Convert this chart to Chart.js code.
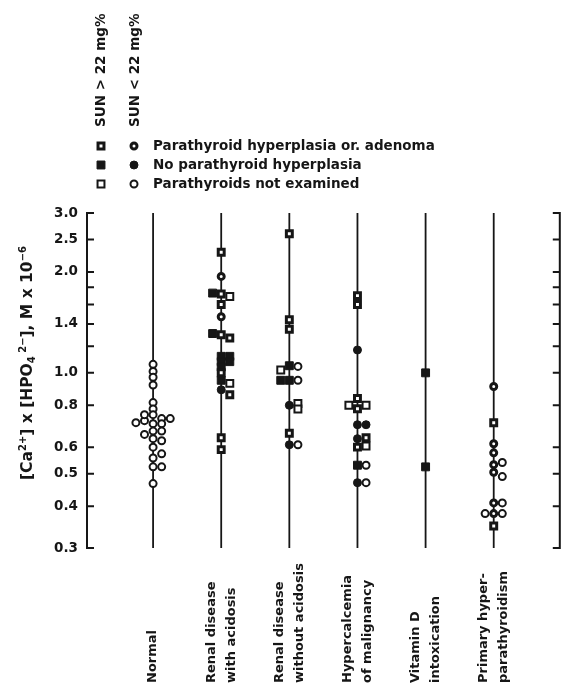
<!DOCTYPE html>
<html>
<head>
<meta charset="utf-8">
<script src="https://cdn.jsdelivr.net/npm/chart.js@4.4.1/dist/chart.umd.min.js"></script>
<style>
  html, body { margin: 0; padding: 0; background: #fff; }
</style>
</head>
<body>
<canvas id="chart" width="567" height="690"></canvas>
<script>
// categories along the x axis
const categories = [
  'Normal',
  'Renal disease\nwith acidosis',
  'Renal disease\nwithout acidosis',
  'Hypercalcemia\nof malignancy',
  'Vitamin D\nintoxication',
  'Primary hyper-\nparathyroidism'
];

// y axis ticks (log scale)
const tickValues = [3.0, 2.5, 2.0, 1.8, 1.6, 1.4, 1.2, 1.0, 0.8, 0.6, 0.5, 0.4, 0.3];
const tickLabels = ['3.0', '2.5', '2.0', '', '', '1.4', '', '1.0', '0.8', '0.6', '0.5', '0.4', '0.3'];

// series: squares = SUN > 22 mg%, circles = SUN < 22 mg%
const S_HYP = 0, S_NO = 1, S_NX = 2, C_HYP = 3, C_NO = 4, C_NX = 5;
const legendRows = ['Parathyroid hyperplasia or. adenoma', 'No parathyroid hyperplasia', 'Parathyroids not examined'];

// points per category: [value, series]
const normal = [
  [1.06, C_NX], [1.01, C_NX], [0.97, C_NX], [0.92, C_NX], [0.815, C_NX], [0.78, C_NX],
  [0.75, C_NX], [0.705, C_NX], [0.67, C_NX], [0.636, C_NX], [0.60, C_NX], [0.557, C_NX],
  [0.524, C_NX], [0.467, C_NX],
  [0.73, C_NX], [0.72, C_NX], [0.75, C_NX], [0.73, C_NX], [0.71, C_NX], [0.705, C_NX],
  [0.67, C_NX], [0.655, C_NX], [0.627, C_NX], [0.573, C_NX], [0.524, C_NX]
];
const renalAcidosis = [
  [2.29, S_HYP], [1.94, C_HYP], [1.72, S_HYP], [1.69, S_NX], [1.73, S_NO], [1.60, S_HYP],
  [1.47, C_HYP], [1.30, S_HYP], [1.27, S_HYP], [1.31, S_NO],
  [1.12, S_NO], [1.08, S_NO], [1.04, S_NO], [1.12, S_NO], [1.08, S_NO], [1.0, S_HYP],
  [0.95, S_NO], [0.93, S_NX], [0.89, C_NO], [0.86, S_HYP], [0.64, S_HYP], [0.59, S_HYP]
];
const renalNoAcidosis = [
  [2.60, S_HYP], [1.44, S_HYP], [1.35, S_HYP],
  [1.05, S_NO], [1.045, C_NX], [1.02, S_NX],
  [0.95, S_NO], [0.95, C_NX], [0.95, S_NO],
  [0.80, C_NO], [0.81, S_NX], [0.78, S_NX],
  [0.66, S_HYP], [0.61, C_NO], [0.61, C_NX]
];
const hypercalcemia = [
  [1.70, S_HYP], [1.60, S_HYP], [1.17, C_NO],
  [0.838, S_HYP], [0.781, S_HYP], [0.80, S_NX], [0.80, S_NX],
  [0.70, C_NO], [0.70, C_NO], [0.636, C_NO], [0.64, S_HYP],
  [0.60, S_HYP], [0.605, S_NX], [0.53, S_NO], [0.53, C_NX], [0.47, C_NO], [0.47, C_NX]
];
const vitaminD = [[1.0, S_NO], [0.524, S_NO]];
const primaryHpt = [
  [0.91, C_HYP], [0.71, S_HYP], [0.614, C_HYP], [0.577, C_HYP],
  [0.532, C_HYP], [0.54, C_NX], [0.505, C_HYP], [0.49, C_NX],
  [0.409, C_HYP], [0.38, C_HYP], [0.409, C_NX], [0.38, C_NX], [0.38, C_NX], [0.349, S_HYP]
];
const groups = [normal, renalAcidosis, renalNoAcidosis, hypercalcemia, vitaminD, primaryHpt];

const ink = '#161616';
const FONT = '"DejaVu Sans", sans-serif';

// marker looks per series
const markStyles = [
  { pointStyle: 'rect', radius: 4.2, borderWidth: 3, fill: '#fff' },
  { pointStyle: 'rect', radius: 5.6, borderWidth: 1, fill: ink },
  { pointStyle: 'rect', radius: 4.9, borderWidth: 2, fill: '#fff' },
  { pointStyle: 'circle', radius: 3, borderWidth: 3, fill: '#fff' },
  { pointStyle: 'circle', radius: 4, borderWidth: 1, fill: ink },
  { pointStyle: 'circle', radius: 3.5, borderWidth: 2, fill: '#fff' }
];

// spread points sideways when they sit on top of each other
const SLOT_ORDER = [0, 1, -1, 2, -2, 3, -3, 4, -4];
const SLOT_W = 0.126;
const MIN_GAP = 0.015;

function swarm(points) {
  const placed = [];
  return points.map(([v, s]) => {
    const lv = Math.log10(v);
    let slot = 0;
    for (const c of SLOT_ORDER) {
      if (!placed.some(p => p.slot === c && Math.abs(p.lv - lv) < MIN_GAP)) { slot = c; break; }
    }
    placed.push({ slot, lv });
    return { v, s, slot };
  });
}

const placedGroups = groups.map(swarm);

const datasets = [];
categories.forEach((c, i) => {
  datasets.push({
    data: [{ x: i, y: 0.3 }, { x: i, y: 3.0 }],
    showLine: true,
    borderColor: ink,
    borderWidth: 1.8,
    pointRadius: 0,
    order: 10
  });
});
markStyles.forEach((m, k) => {
  const data = [];
  placedGroups.forEach((pts, ci) => {
    pts.filter(p => p.s === k).forEach(p => data.push({ x: ci + p.slot * SLOT_W, y: p.v }));
  });
  datasets.push({
    data: data,
    pointStyle: m.pointStyle,
    pointRadius: m.radius,
    pointBorderWidth: m.borderWidth,
    pointBackgroundColor: m.fill,
    pointBorderColor: ink,
    order: 0
  });
});

function drawMark(ctx, m, x, y) {
  ctx.save();
  ctx.fillStyle = m.fill;
  ctx.strokeStyle = ink;
  ctx.lineWidth = m.borderWidth;
  Chart.helpers.drawPoint(ctx, { pointStyle: m.pointStyle, radius: m.radius, borderWidth: m.borderWidth, rotation: 0 }, x, y);
  ctx.restore();
}

const decorPlugin = {
  id: 'decor',
  beforeDatasetsDraw(chart) {
    const { ctx, chartArea: a, scales: { y } } = chart;
    ctx.save();
    ctx.strokeStyle = ink;
    ctx.lineWidth = 2;
    ctx.beginPath();
    ctx.moveTo(a.left, a.top - 1); ctx.lineTo(a.left, a.bottom + 1);
    ctx.moveTo(a.right, a.top - 1); ctx.lineTo(a.right, a.bottom + 1);
    tickValues.forEach(v => {
      const py = y.getPixelForValue(v);
      ctx.moveTo(a.left, py); ctx.lineTo(a.left + 7, py);
      ctx.moveTo(a.right, py); ctx.lineTo(a.right - 7, py);
    });
    ctx.stroke();
    ctx.restore();
  },
  afterDraw(chart) {
    const { ctx, scales: { x } } = chart;
    ctx.save();
    ctx.fillStyle = ink;

    // category labels, rotated
    ctx.font = 'bold 13px ' + FONT;
    ctx.textAlign = 'left';
    ctx.textBaseline = 'middle';
    categories.forEach((c, i) => {
      const lines = c.split('\n');
      const cx = x.getPixelForValue(i);
      lines.forEach((ln, j) => {
        ctx.save();
        ctx.translate(cx + (j - (lines.length - 1) / 2) * 20, 683);
        ctx.rotate(-Math.PI / 2);
        ctx.fillText(ln, 0, 0);
        ctx.restore();
      });
    });

    // legend
    ctx.font = 'bold 13.5px ' + FONT;
    [['SUN > 22 mg%', 101], ['SUN < 22 mg%', 135]].forEach(([t, lx]) => {
      ctx.save();
      ctx.translate(lx, 127);
      ctx.rotate(-Math.PI / 2);
      ctx.fillText(t, 0, 0);
      ctx.restore();
    });
    legendRows.forEach((t, r) => {
      const ly = 146 + r * 19;
      drawMark(ctx, markStyles[r], 101, ly);
      drawMark(ctx, markStyles[r + 3], 134, ly);
      ctx.fillStyle = ink;
      ctx.fillText(t, 153, ly);
    });

    // y axis title with super/subscripts
    const parts = [
      ['[Ca', 'n'], ['2+', 'sup'], ['] x [HPO', 'n'], ['4', 'sub'], [' 2\u2212', 'sup'],
      ['], M x 10', 'n'], ['\u22126', 'sup']
    ];
    const fontFor = k => k === 'n' ? 'bold 15.5px ' + FONT : 'bold 10px ' + FONT;
    let total = 0;
    parts.forEach(([t, k]) => { ctx.font = fontFor(k); total += ctx.measureText(t).width; });
    ctx.save();
    ctx.translate(26, 363);
    ctx.rotate(-Math.PI / 2);
    ctx.textBaseline = 'alphabetic';
    let px = -total / 2;
    parts.forEach(([t, k]) => {
      ctx.font = fontFor(k);
      const dy = k === 'sup' ? -6 : k === 'sub' ? 3 : 0;
      ctx.fillText(t, px, 5.5 + dy);
      px += ctx.measureText(t).width;
    });
    ctx.restore();

    ctx.restore();
  }
};

new Chart(document.getElementById('chart'), {
  type: 'scatter',
  data: { datasets: datasets },
  options: {
    responsive: false,
    animation: false,
    events: [],
    layout: { padding: { top: 213, bottom: 142, left: 0, right: 2 } },
    plugins: { legend: { display: false }, tooltip: { enabled: false } },
    scales: {
      x: {
        type: 'linear',
        min: -0.97,
        max: 5.97,
        display: false
      },
      y: {
        type: 'logarithmic',
        min: 0.3,
        max: 3.0,
        grid: { display: false, drawTicks: false },
        border: { display: false },
        afterFit(scale) { scale.width = 87; },
        afterBuildTicks(scale) { scale.ticks = tickValues.map(v => ({ value: v })); },
        ticks: {
          autoSkip: false,
          padding: 9,
          color: ink,
          font: { family: FONT, size: 13.5, weight: 'bold' },
          callback: (v, i) => tickLabels[i]
        }
      }
    }
  },
  plugins: [decorPlugin]
});
</script>
</body>
</html>
